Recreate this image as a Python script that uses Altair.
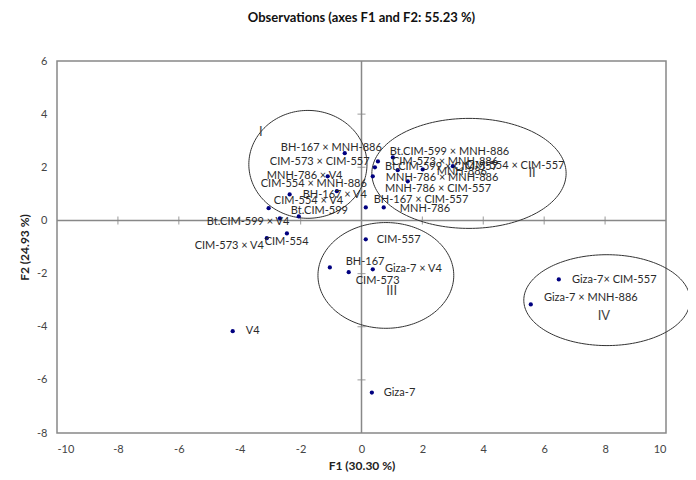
import altair as alt
import pandas as pd
import numpy as np

# Observations (F1, F2 scores)
names = [
    "BH-167 × MNH-886", "MNH-786 × V4", "BH-167 × V4", "CIM-554 × MNH-886",
    "CIM-554 × V4", "Bt.CIM-599 × V4", "Bt.CIM-599", "CIM-554", "CIM-573 × V4",
    "CIM-573 × CIM-557", "Bt.CIM-599 × MNH-886", "CIM-573 × MNH-886",
    "Bt.CIM-599 × CIM-557", "MNH-886", "CIM-554 × CIM-557", "MNH-786 × MNH-886",
    "MNH-786 × CIM-557", "BH-167 × CIM-557", "MNH-786",
    "CIM-557", "BH-167", "CIM-573", "Giza-7 × V4",
    "Giza-7", "V4", "Giza-7× CIM-557", "Giza-7 × MNH-886",
]
f1 = [
    -0.55, -1.11, -0.81, -2.36,
    -3.05, -2.68, -2.06, -2.45, -3.11,
    0.54, 1.03, 1.19,
    0.44, 3.00, 2.01, 1.52,
    0.37, 0.14, 0.73,
    0.14, -1.04, -0.42, 0.37,
    0.34, -4.23, 6.48, 5.56,
]
f2 = [
    2.53, 1.66, 1.10, 0.98,
    0.46, 0.08, 0.15, -0.49, -0.67,
    2.22, 2.37, 1.89,
    2.00, 2.04, 1.92, 1.47,
    1.66, 0.49, 0.49,
    -0.71, -1.77, -1.95, -1.84,
    -6.48, -4.17, -2.22, -3.16,
]
# where each label starts (left end, vertical middle), in axis units
label_f1 = [
    -2.65, -3.11, -1.93, -3.31,
    -2.88, -5.08, -2.32, -3.18, -5.48,
    -3.01, 0.93, 1.00,
    0.77, 2.47, 3.39, 0.80,
    0.77, 0.40, 1.26,
    0.50, -0.52, -0.19, 0.77,
    0.73, -3.80, 6.91, 5.99,
]
label_f2 = [
    2.71, 1.66, 0.94, 1.36,
    0.72, -0.07, 0.34, -0.82, -0.97,
    2.19, 2.56, 2.19,
    2.00, 1.81, 2.04, 1.58,
    1.17, 0.76, 0.42,
    -0.75, -1.58, -2.29, -1.84,
    -6.50, -4.17, -2.25, -2.93,
]

# Group ellipses
group_names = ["I", "II", "III", "IV"]
group_cx = [-1.76, 3.53, 0.80, 8.06]
group_cy = [2.11, 1.77, -2.07, -3.00]
group_rx = [1.94, 3.19, 2.23, 2.73]
group_ry = [2.03, 2.07, 1.99, 1.71]
group_label_f1 = [-3.31, 5.60, 0.99, 7.96]
group_label_f2 = [3.31, 1.77, -2.67, -3.61]

x_ticks = [-10, -8, -6, -4, -2, 0, 2, 4, 6, 8, 10]
y_ticks = [-8, -6, -4, -2, 0, 2, 4, 6]

pts = pd.DataFrame({"x": f1, "y": f2, "name": names})
labs = pd.DataFrame({"x": label_f1, "y": label_f2, "name": names})
glabs = pd.DataFrame({"x": group_label_f1, "y": group_label_f2, "name": group_names})

t = np.linspace(0, 2 * np.pi, 181)
rows = []
for g, cx, cy, rx, ry in zip(group_names, group_cx, group_cy, group_rx, group_ry):
    for i, a in enumerate(t):
        rows.append({"g": g, "o": i, "x": cx + rx * np.cos(a), "y": cy + ry * np.sin(a)})
ell = pd.DataFrame(rows)

xs = alt.Scale(domain=[-10, 10], nice=False, zero=False)
ys = alt.Scale(domain=[-8, 6], nice=False, zero=False)
xaxis = alt.Axis(values=x_ticks, domain=False, ticks=False, grid=False,
                 labelExpr="'' + datum.value",
                 labelFont="Lato", labelFontSize=11, labelColor="#444444", labelPadding=10,
                 title="F1 (30.30 %)", titleFont="Lato", titleFontSize=12,
                 titleFontWeight="bold", titleColor="#222222", titlePadding=6)
yaxis = alt.Axis(values=y_ticks, domain=False, ticks=False, grid=False,
                 labelExpr="'' + datum.value",
                 labelFont="Lato", labelFontSize=11, labelColor="#444444", labelPadding=10,
                 title="F2 (24.93 %)", titleFont="Lato", titleFontSize=12,
                 titleFontWeight="bold", titleColor="#222222", titlePadding=5)
X = alt.X("x:Q", scale=xs, axis=xaxis)
Y = alt.Y("y:Q", scale=ys, axis=yaxis)

vline = alt.Chart(pd.DataFrame({"x": [0], "y": [-8], "y2": [6]})).mark_rule(
    color="#888888", strokeWidth=1.5).encode(x=X, y=Y, y2="y2:Q")
hline = alt.Chart(pd.DataFrame({"x": [-10], "x2": [10], "y": [0]})).mark_rule(
    color="#888888", strokeWidth=1.5).encode(x=X, x2="x2:Q", y=Y)

xt = alt.Chart(pd.DataFrame({"x": [v for v in x_ticks if v not in (-10, 0, 10)], "y": 0})).mark_tick(
    orient="vertical", size=8, thickness=1.2, color="#888888").encode(x=X, y=Y)
yt = alt.Chart(pd.DataFrame({"y": [v for v in y_ticks if v not in (-8, 0, 6)], "x": 0})).mark_tick(
    orient="horizontal", size=8, thickness=1.2, color="#888888").encode(x=X, y=Y)

ellipses = alt.Chart(ell).mark_line(color="#333333", strokeWidth=1, clip=False).encode(
    x=X, y=Y, detail="g:N", order="o:Q")

points = alt.Chart(pts).mark_circle(size=18, color="#000080", opacity=1).encode(x=X, y=Y)

texts = alt.Chart(labs).mark_text(align="left", baseline="middle", font="Lato",
                                  fontSize=11, color="#2a2a2a").encode(x=X, y=Y, text="name:N")

gtexts = alt.Chart(glabs).mark_text(align="center", baseline="middle", font="Lato",
                                    fontSize=13, color="#444444").encode(x=X, y=Y, text="name:N")

chart = alt.layer(vline, hline, xt, yt, ellipses, points, texts, gtexts).properties(
    width=609, height=372,
    title=alt.TitleParams("Observations (axes F1 and F2: 55.23 %)", font="Lato", fontSize=13,
                          fontWeight="bold", color="#111111", offset=30),
    autosize=alt.AutoSizeParams(type="none"),
    padding={"left": 49, "top": 53, "right": 22, "bottom": 39},
).configure_view(stroke="#888888", strokeWidth=1.5)

chart.save("out.html", embed_options={"renderer": "svg", "actions": False})
